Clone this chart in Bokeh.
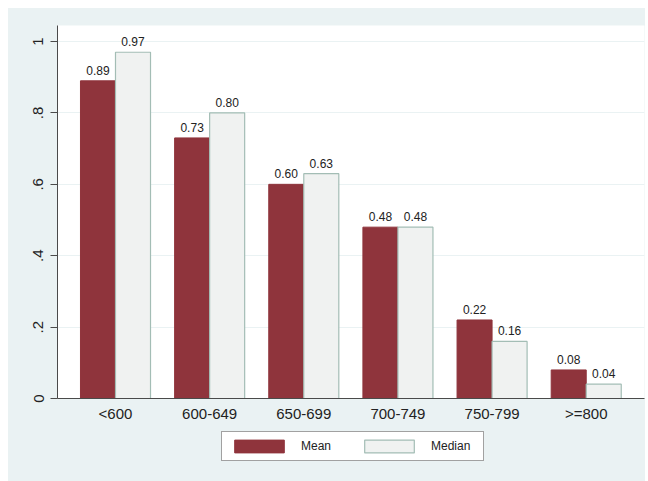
from bokeh.plotting import figure
from bokeh.layouts import column
from bokeh.models import ColumnDataSource, FixedTicker, Legend, LegendItem, Range1d
from bokeh.core.properties import value
from bokeh.embed import file_html
from bokeh.resources import INLINE

categories = ["<600", "600-649", "650-699", "700-749", "750-799", ">=800"]
mean_vals = [0.89, 0.73, 0.60, 0.48, 0.22, 0.08]
median_vals = [0.97, 0.80, 0.63, 0.48, 0.16, 0.04]
y_ticks = [0, 0.2, 0.4, 0.6, 0.8, 1.0]
y_tick_labels = ["0", ".2", ".4", ".6", ".8", "1"]
series_names = ["Mean", "Median"]

FONT = "Liberation Sans"
BG = "#EAF2F3"
MEAN_C = "#8F343C"
MED_FILL = "#F0F2F1"
MED_LINE = "#A3BDB5"
bw = 0.372

idx = list(range(1, len(categories) + 1))
src_mean = ColumnDataSource(dict(
    x=[i - bw / 2 for i in idx], top=mean_vals,
    lab=["%.2f" % v for v in mean_vals]))
src_med = ColumnDataSource(dict(
    x=[i + bw / 2 for i in idx], top=median_vals,
    lab=["%.2f" % v for v in median_vals]))

p = figure(width=637, height=423, output_backend="svg",
           toolbar_location=None, x_range=(0.384, 6.619), y_range=(0, 1.045),
           min_border_left=49, min_border_top=17, min_border_right=1,
           min_border_bottom=33)
p.background_fill_color = "white"
p.border_fill_color = BG
p.outline_line_color = None

p.vbar(x="x", top="top", width=bw, bottom=0, source=src_mean,
       fill_color=MEAN_C, line_color=MEAN_C, line_width=1)
p.vbar(x="x", top="top", width=bw, bottom=0, source=src_med,
       fill_color=MED_FILL, line_color=MED_LINE, line_width=1.2)

for s in (src_mean, src_med):
    p.text(x="x", y="top", text="lab", source=s, text_align="center",
           text_baseline="bottom", y_offset=-6, text_font_size="12px",
           text_font=value(FONT), text_color="#222222")

# axes
p.xgrid.grid_line_color = None
p.ygrid.grid_line_color = BG
p.ygrid.grid_line_width = 1.2
p.yaxis.ticker = FixedTicker(ticks=y_ticks)
p.yaxis.major_label_overrides = {t: l for t, l in zip(y_ticks, y_tick_labels)}
p.yaxis.major_label_orientation = "vertical"
p.yaxis.major_tick_out = 7
p.yaxis.major_tick_in = 0
p.yaxis.minor_tick_line_color = None
p.yaxis.major_label_standoff = 7

p.xaxis.ticker = FixedTicker(ticks=idx)
p.xaxis.major_label_overrides = {i: c for i, c in zip(idx, categories)}
p.xaxis.major_tick_out = 0
p.xaxis.major_tick_in = 0
p.xaxis.minor_tick_line_color = None
p.xaxis.major_label_standoff = 6

for ax in (p.xaxis, p.yaxis):
    ax.axis_line_color = "#4A4A4A"
    ax.major_tick_line_color = "#4A4A4A"
    ax.major_label_text_font = FONT
    ax.major_label_text_font_size = "15px"
    ax.major_label_text_color = "#222222"

# legend strip (second figure, same background)
p2 = figure(width=637, height=50, output_backend="svg", toolbar_location=None,
            x_range=Range1d(0, 1), y_range=Range1d(0, 1),
            x_axis_type=None, y_axis_type=None, min_border=0)
p2.background_fill_color = BG
p2.border_fill_color = BG
p2.outline_line_color = None
p2.xgrid.grid_line_color = None
p2.ygrid.grid_line_color = None
e1 = p2.vbar(x="x", top="top", width=bw, source=src_mean,
             fill_color=MEAN_C, line_color=MEAN_C, visible=False)
e2 = p2.vbar(x="x", top="top", width=bw, source=src_med, fill_color=MED_FILL,
             line_color=MED_LINE, line_width=1.2, visible=False)

legend = Legend(items=[LegendItem(label=series_names[0], renderers=[e1]),
                       LegendItem(label=series_names[1], renderers=[e2])],
                orientation="horizontal", location=(164, 20))
legend.glyph_width = 62
legend.glyph_height = 16
legend.label_standoff = 11
legend.label_width = 46
legend.spacing = 11
legend.padding = 6
legend.margin = 0
legend.inactive_fill_alpha = 0
legend.label_text_font = FONT
legend.label_text_font_size = "12px"
legend.label_text_color = "#222222"
legend.border_line_color = "#444444"
legend.border_line_width = 1
legend.background_fill_color = "white"
legend.background_fill_alpha = 1
p2.add_layout(legend, "center")

layout = column(p, p2, spacing=0, margin=(8, 0, 0, 8),
                styles={"background-color": BG})
open("out.html", "w").write(file_html(layout, INLINE))
